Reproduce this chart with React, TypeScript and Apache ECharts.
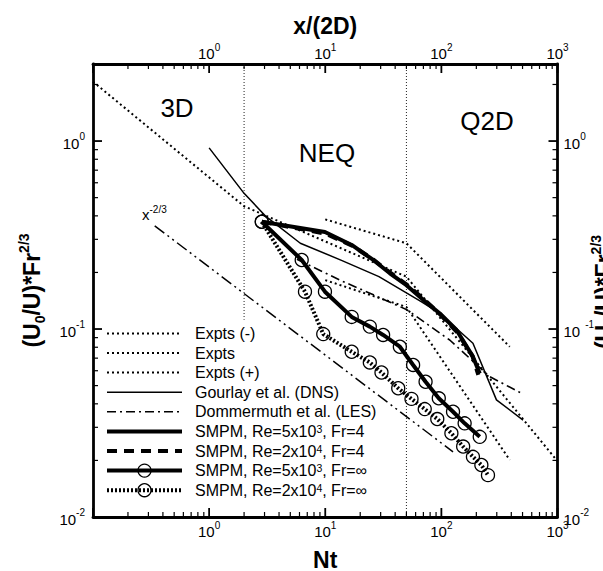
import React, { useEffect, useRef } from 'react';
import * as echarts from 'echarts';

const FONT = '"Liberation Sans", Arial, Helvetica, sans-serif';

// ---- axis ranges and ticks ----
const xRange = [0.1, 1000];
const yRange = [0.01, 2.57];
const xDecades = [0.1, 1, 10, 100, 1000];
const yDecades = [0.01, 0.1, 1];
const minorMultipliers = [2, 3, 4, 5, 6, 7, 8, 9];
const regimeBounds = [2, 50];
const regimeNames = ['3D', 'NEQ', 'Q2D'];

// ---- series values (Nt, (U0/U)*Fr^2/3) ----
const exptsMinus = [[10, 0.383], [50, 0.286], [388, 0.0805]];
const exptsMid = [[0.1, 2.07], [2, 0.45], [50, 0.19], [1000, 0.0198]];
const exptsPlus = [[10, 0.182], [50, 0.131], [388, 0.0201]];
const gourlay = [[1.0, 0.92], [2.0, 0.527], [3.1, 0.396], [6.1, 0.286], [13.8, 0.232], [29, 0.19], [67, 0.14], [97, 0.121], [187, 0.084], [298, 0.042], [505, 0.0328]];
const dommermuth = [[5.7, 0.235], [13.4, 0.182], [26, 0.152], [50, 0.127], [118, 0.0874], [261, 0.0558], [490, 0.0455]];
const smpm5e3Fr4 = [[2.84, 0.372], [9.94, 0.328], [16.9, 0.28], [25.9, 0.233], [36, 0.198], [50, 0.171], [69.7, 0.143], [97, 0.121], [135, 0.0988], [187, 0.0713], [214, 0.058]];
const smpm2e4Fr4 = [[2.84, 0.372], [10, 0.322], [17, 0.278], [26, 0.234], [36, 0.2], [50, 0.173], [70, 0.145], [97, 0.12], [135, 0.097], [185, 0.072], [208, 0.057]];
const smpm5e3FrInf = [[2.84, 0.372], [6.27, 0.233], [9.94, 0.158], [16.9, 0.116], [24.2, 0.103], [31.5, 0.093], [43.9, 0.0805], [57.1, 0.0644], [73.1, 0.0524], [95, 0.0428], [126, 0.0363], [158.6, 0.0315], [214, 0.0267]];
const smpm2e4FrInf = [[2.84, 0.372], [6.69, 0.158], [9.61, 0.094], [16.9, 0.0757], [24.2, 0.0664], [30.5, 0.0587], [42.5, 0.0484], [55.3, 0.0425], [71.9, 0.0375], [92.2, 0.0332], [122, 0.0279], [154, 0.0237], [187, 0.0209], [221, 0.0189], [252, 0.0167]];
const slopeRef = [[0.34, 0.354], [126, 0.0222]];
const neqLineBottom = 0.112;

const legendLabels = [
  'Expts (-)',
  'Expts',
  'Expts (+)',
  'Gourlay et al. (DNS)',
  'Dommermuth et al. (LES)',
  'SMPM, Re=5x10{s|3}, Fr=4',
  'SMPM, Re=2x10{s|4}, Fr=4',
  'SMPM, Re=5x10{s|3}, Fr=∞',
  'SMPM, Re=2x10{s|4}, Fr=∞',
];

const K = '#000';

const styles: any = {
  expts: { width: 2, type: [2, 3] },
  gourlay: { width: 1.5, type: 'solid' },
  domm: { width: 1.6, type: [9, 4, 2, 4] },
  fr4a: { width: 4, type: 'solid' },
  fr4b: { width: 4, type: [10, 7] },
  infA: { width: 4, type: 'solid' },
  infB: { width: 4, type: [2, 2] },
  slope: { width: 1.5, type: [12, 4, 2, 4, 2, 4] },
  bound: { width: 1, type: [1, 2] },
};
const legendStyles = ['expts', 'expts', 'expts', 'gourlay', 'domm', 'fr4a', 'fr4b', 'infA', 'infB'];
const legendCircle = [false, false, false, false, false, false, false, true, true];

function isDecade(v: number) {
  const l = Math.log10(v);
  return Math.abs(l - Math.round(l)) < 1e-6;
}

const labelRich: any = {
  b: { fontSize: 15, fontFamily: FONT, color: K, lineHeight: 19, verticalAlign: 'bottom' },
  s: { fontSize: 10, fontFamily: FONT, color: K, lineHeight: 10, verticalAlign: 'top' },
  g: { fontSize: 6, lineHeight: 10, width: 5 },
};

const titleRich: any = {
  m: { fontSize: 23, fontWeight: 'bold', fontFamily: FONT, color: K, lineHeight: 30, verticalAlign: 'middle' },
  sub: { fontSize: 14, fontWeight: 'bold', fontFamily: FONT, color: K, lineHeight: 14, verticalAlign: 'bottom' },
  sup: { fontSize: 14, fontWeight: 'bold', fontFamily: FONT, color: K, lineHeight: 14, verticalAlign: 'top' },
};
const titleRichFill: any = {
  m: { fontSize: 23, fontWeight: 'bold', fontFamily: FONT, fill: K, lineHeight: 30, verticalAlign: 'middle' },
  sub: { fontSize: 14, fontWeight: 'bold', fontFamily: FONT, fill: K, lineHeight: 14, verticalAlign: 'bottom' },
  sup: { fontSize: 14, fontWeight: 'bold', fontFamily: FONT, fill: K, lineHeight: 14, verticalAlign: 'top' },
};
const yTitle = '{m|(U}{sub|0}{m|/U)*Fr}{sup|2/3}';

function lineSeries(name: string, data: number[][], st: string, extra: any = {}) {
  const s = styles[st];
  return {
    name,
    type: 'line',
    data,
    xAxisIndex: 0,
    yAxisIndex: 0,
    symbol: 'none',
    smooth: false,
    silent: true,
    lineStyle: { color: K, width: s.width, type: s.type, cap: 'butt' },
    ...extra,
  };
}

const circleExtra = {
  symbol: 'circle',
  symbolSize: 13,
  showSymbol: true,
  itemStyle: { color: 'transparent', borderColor: K, borderWidth: 1.3 },
  z: 5,
};

export default function App() {
  const ref = useRef<HTMLDivElement>(null);
  useEffect(() => {
    const chart = echarts.init(ref.current!, null, { renderer: 'svg' });

    const xTickData: number[][] = [];
    xDecades.forEach((d) => {
      xTickData.push([d, 1, 1]);
      if (d < 1000) minorMultipliers.forEach((m) => xTickData.push([d * m, 1, 0]));
    });
    const yTickData: number[][] = [];
    yDecades.forEach((d) => {
      yTickData.push([1, d, 1]);
      minorMultipliers.forEach((m) => {
        if (d * m <= yRange[1]) yTickData.push([1, d * m, 0]);
      });
    });

    const xFmt = (v: number) => {
      if (!isDecade(v)) return '';
      const e = Math.round(Math.log10(v));
      if (e < 0) return '';
      return `{b|10}{s|${e}}`;
    };
    const yFmt = (v: number) => {
      if (!isDecade(v)) return '';
      const e = Math.round(Math.log10(v));
      return `{b|10}{s|${e}}`;
    };
    const yFmtRight = (v: number) => {
      if (!isDecade(v)) return '';
      const e = Math.round(Math.log10(v));
      if (e === -1) return `{b|10}{g| }{s|${e}}`;
      return `{b|10}{s|${e}}`;
    };

    const axisLine = { show: true, onZero: false, lineStyle: { color: K, width: 2.8 } };
    const xAxisBase = {
      type: 'log',
      logBase: 10,
      min: xRange[0],
      max: xRange[1],
      axisLine,
      axisTick: { show: false },
      minorTick: { show: false },
      splitLine: { show: false },
      nameLocation: 'middle',
      nameTextStyle: { fontSize: 23, fontWeight: 'bold', fontFamily: FONT, color: K },
    };
    const yAxisBase = {
      type: 'log',
      logBase: 10,
      min: yRange[0],
      max: yRange[1],
      axisLine,
      axisTick: { show: false },
      minorTick: { show: false },
      splitLine: { show: false },
    };

    const legendY0 = 333.4;
    const legendDy = 19.6;
    const graphics: any[] = [];
    legendLabels.forEach((lab, i) => {
      const y = legendY0 + legendDy * i;
      const st = styles[legendStyles[i]];
      graphics.push({
        type: 'line',
        shape: { x1: 107, y1: y, x2: 182, y2: y },
        style: { stroke: K, lineWidth: st.width, lineDash: st.type === 'solid' ? null : st.type },
        silent: true,
      });
      if (legendCircle[i]) {
        graphics.push({
          type: 'circle',
          shape: { cx: 144.5, cy: y, r: 6.5 },
          style: { fill: 'none', stroke: K, lineWidth: 1.3 },
          silent: true,
        });
      }
      graphics.push({
        type: 'text',
        x: 195,
        y,
        style: {
          text: lab,
          fontSize: 16,
          fontFamily: FONT,
          fill: K,
          verticalAlign: 'middle',
          align: 'left',
          rich: {
            s: { fontSize: 10.5, fontFamily: FONT, fill: K, verticalAlign: 'top', lineHeight: 10 },
          },
        },
        silent: true,
      });
    });
    const regionPos = [[177, 108], [327, 153], [487, 121]];
    regimeNames.forEach((t, i) => {
      graphics.push({
        type: 'text',
        x: regionPos[i][0],
        y: regionPos[i][1],
        style: { text: t, fontSize: 26, fontFamily: FONT, fill: K, align: 'center', verticalAlign: 'middle' },
        silent: true,
      });
    });
    graphics.push({
      type: 'text',
      x: 142,
      y: 213,
      style: {
        text: '{x|x}{s|-2/3}',
        verticalAlign: 'middle',
        align: 'left',
        rich: {
          x: { fontSize: 15, fontFamily: FONT, fill: K, lineHeight: 18, verticalAlign: 'bottom' },
          s: { fontSize: 10, fontFamily: FONT, fill: K, lineHeight: 10, verticalAlign: 'top' },
        },
      },
      silent: true,
    });
    // right-hand axis title, mostly beyond the page edge as in the reference
    graphics.push({
      type: 'text',
      x: 604,
      y: 292,
      rotation: Math.PI / 2,
      style: {
        text: yTitle,
        align: 'center',
        verticalAlign: 'middle',
        rich: titleRichFill,
      },
      silent: true,
    });

    const tickRender = (axis: 'x' | 'y') => (params: any, api: any) => {
      const cs = params.coordSys;
      const major = api.value(2) === 1;
      const len = major ? 9 : 5;
      const w = major ? 1.8 : 1.2;
      const st = { stroke: K, lineWidth: w };
      if (axis === 'x') {
        const px = api.coord([api.value(0), 1])[0];
        const b = cs.y + cs.height;
        return {
          type: 'group',
          children: [
            { type: 'line', shape: { x1: px, y1: b, x2: px, y2: b - len }, style: st },
            { type: 'line', shape: { x1: px, y1: cs.y, x2: px, y2: cs.y + len }, style: st },
          ],
        };
      }
      const py = api.coord([1, api.value(1)])[1];
      const r = cs.x + cs.width;
      return {
        type: 'group',
        children: [
          { type: 'line', shape: { x1: cs.x, y1: py, x2: cs.x + len, y2: py }, style: st },
          { type: 'line', shape: { x1: r, y1: py, x2: r - len, y2: py }, style: st },
        ],
      };
    };

    const option: any = {
      animation: false,
      backgroundColor: '#fff',
      grid: { left: 93, right: 45.5, top: 64, bottom: 54, containLabel: false, outerBoundsMode: 'none' },
      xAxis: [
        {
          ...xAxisBase,
          position: 'bottom',
          name: 'Nt',
          nameGap: 31,
          axisLabel: { margin: 3, formatter: xFmt, rich: labelRich },
        },
        {
          ...xAxisBase,
          position: 'top',
          name: 'x/(2D)',
          nameGap: 27,
          axisLabel: { margin: 3, formatter: xFmt, rich: labelRich },
        },
      ],
      yAxis: [
        {
          ...yAxisBase,
          position: 'left',
          name: yTitle,
          nameLocation: 'middle',
          nameRotate: 90,
          nameGap: 46,
          nameTextStyle: { rich: titleRich },
          axisLabel: { margin: 8, formatter: yFmt, rich: labelRich },
        },
        {
          ...yAxisBase,
          position: 'right',
          axisLabel: { margin: 6, formatter: yFmtRight, rich: labelRich },
        },
      ],
      graphic: graphics,
      series: [
        lineSeries('bound2', [[regimeBounds[0], yRange[1]], [regimeBounds[0], neqLineBottom]], 'bound', { lineStyle: { color: '#222', width: 1, type: [1, 2] } }),
        lineSeries('bound50', [[regimeBounds[1], yRange[1]], [regimeBounds[1], yRange[0]]], 'bound', { lineStyle: { color: '#222', width: 1, type: [1, 2] } }),
        lineSeries('Expts (-)', exptsMinus, 'expts'),
        lineSeries('Expts', exptsMid, 'expts'),
        lineSeries('Expts (+)', exptsPlus, 'expts'),
        lineSeries('x^-2/3', slopeRef, 'slope'),
        lineSeries('Gourlay et al. (DNS)', gourlay, 'gourlay'),
        lineSeries('Dommermuth et al. (LES)', dommermuth, 'domm'),
        lineSeries('SMPM, Re=5x10^3, Fr=4', smpm5e3Fr4, 'fr4a'),
        lineSeries('SMPM, Re=2x10^4, Fr=4', smpm2e4Fr4, 'fr4b'),
        lineSeries('SMPM, Re=5x10^3, Fr=inf', smpm5e3FrInf, 'infA', circleExtra),
        lineSeries('SMPM, Re=2x10^4, Fr=inf', smpm2e4FrInf, 'infB', circleExtra),
        {
          type: 'custom',
          silent: true,
          xAxisIndex: 0,
          yAxisIndex: 0,
          data: xTickData,
          encode: { x: 0, y: 1 },
          renderItem: tickRender('x'),
          z: 10,
        },
        {
          type: 'custom',
          silent: true,
          xAxisIndex: 0,
          yAxisIndex: 0,
          data: yTickData,
          encode: { x: 0, y: 1 },
          renderItem: tickRender('y'),
          z: 10,
        },
      ],
    };
    chart.setOption(option);
    return () => chart.dispose();
  }, []);
  return (
    <div
      ref={ref}
      style={{ position: 'absolute', left: 0, top: 0, width: 603, height: 571, background: '#fff' }}
    />
  );
}
